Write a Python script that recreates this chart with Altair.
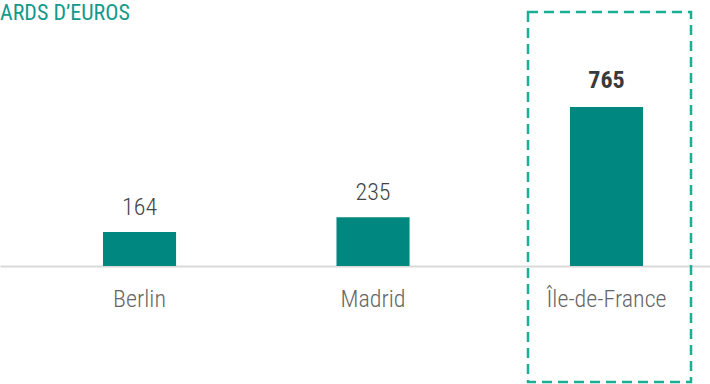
import altair as alt
import pandas as pd

cities = ["Berlin", "Madrid", "Île-de-France"]
values = [164, 235, 765]
bold = [False, False, True]
title_text = "ARDS D’EUROS"

df = pd.DataFrame({"city": cities, "value": values, "bold": bold})

FONT = "Liberation Sans Narrow, Roboto Condensed, Roboto"
xscale = alt.Scale(domain=cities, paddingInner=0.687, paddingOuter=0.364, align=0.606)
yscale = alt.Scale(domain=[0, 1280])

base = alt.Chart(df).encode(
    x=alt.X("city:N", scale=xscale, sort=cities,
            axis=alt.Axis(title=None, labelAngle=0, ticks=False, domainColor="#d9d9d9",
                          domainWidth=2, labelFont=FONT, labelFontSize=24,
                          labelFontWeight=300,
                          labelColor="#666666", labelPadding=40,
                          labelBaseline="alphabetic")),
)

bars = base.mark_bar(color="#00877f").encode(
    y=alt.Y("value:Q", scale=yscale, axis=None)
)

labels_normal = base.transform_filter("!datum.bold").mark_text(
    baseline="alphabetic", dy=-17, font=FONT, fontSize=24, fontWeight=300, color="#444444"
).encode(y=alt.Y("value:Q", scale=yscale), text="value:Q")

labels_bold = base.transform_filter("datum.bold").mark_text(
    baseline="alphabetic", dy=-19, font=FONT, fontSize=24, fontWeight="bold", color="#3a3a3a"
).encode(y=alt.Y("value:Q", scale=yscale), text="value:Q")

box = alt.Chart(pd.DataFrame({"city": ["Île-de-France"]})).mark_rect(
    fill=None, stroke="#1aae94", strokeWidth=2.5, strokeDash=[10, 6]
).encode(x=alt.value(528), x2=alt.value(691), y=alt.value(12), y2=alt.value(382))

title = alt.Chart(pd.DataFrame({"t": [title_text]})).mark_text(
    align="left", baseline="alphabetic", font=FONT, fontSize=22, fontWeight="normal",
    color="#13998a"
).encode(x=alt.value(0), y=alt.value(20), text="t:N")

chart = alt.layer(bars, labels_normal, labels_bold, box, title).properties(
    width=710, height=266,
    padding={"left": 0, "right": 0, "top": 0, "bottom": 118},
    autosize=alt.AutoSizeParams(type="none"),
).configure_view(stroke=None)

chart.save("out.html", embed_options={"renderer": "svg", "actions": False})
